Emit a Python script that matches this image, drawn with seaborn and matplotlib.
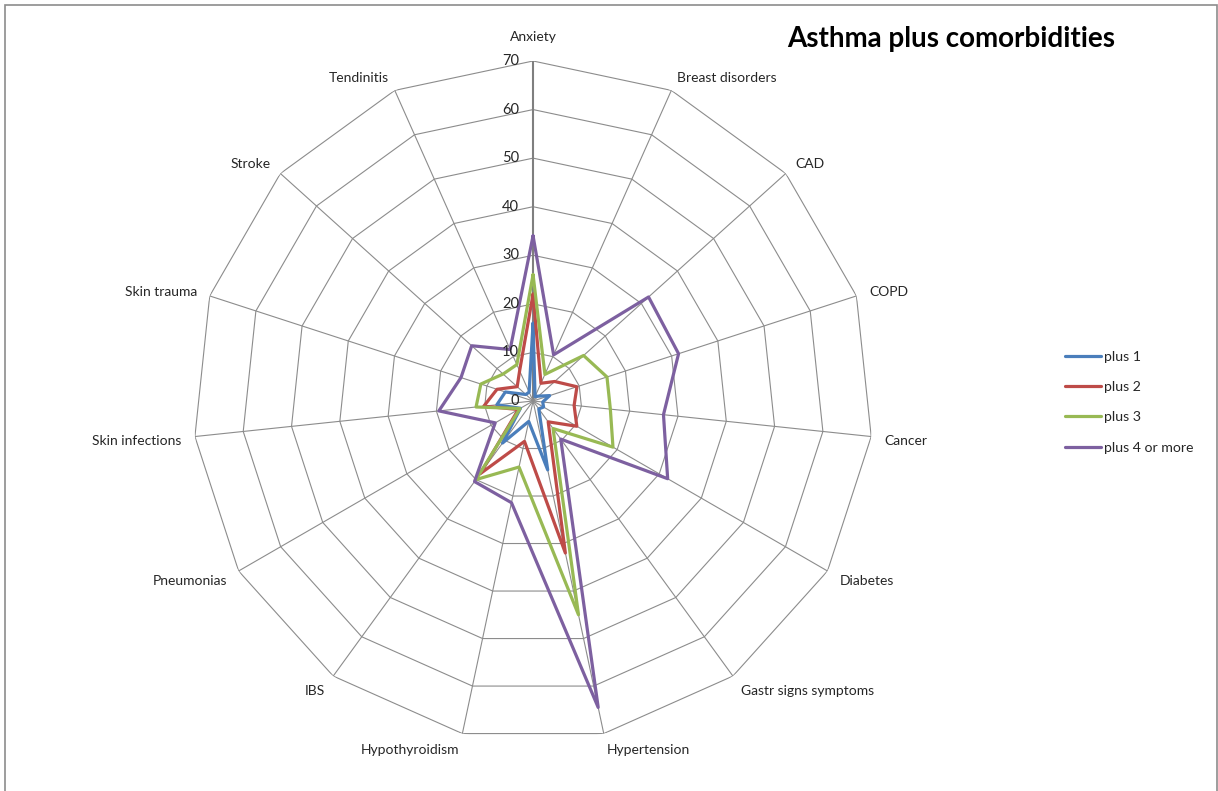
import numpy as np
import pandas as pd
import seaborn as sns
import matplotlib.pyplot as plt
from matplotlib.patches import Rectangle

categories = ['Anxiety', 'Breast disorders', 'CAD', 'COPD', 'Cancer', 'Diabetes',
              'Gastr signs symptoms', 'Hypertension', 'Hypothyroidism', 'IBS',
              'Pneumonias', 'Skin infections', 'Skin trauma', 'Stroke', 'Tendinitis']
series_names = ['plus 1', 'plus 2', 'plus 3', 'plus 4 or more']
plus1 = [16, 1, 1.5, 3.6, 2, 2.5, 2, 14.5, 4.3, 10.7, 3, 7.5, 6, 2, 2]
plus2 = [22, 4, 6, 9.5, 8.5, 10.4, 5.3, 32, 8.5, 18.5, 3.5, 10.2, 7.8, 4.4, 6.8]
plus3 = [26, 6, 14, 16, 16, 19, 7, 45, 13.9, 20, 3.1, 11.8, 11.3, 8.3, 8.2]
plus4 = [34, 10.4, 32, 31.5, 27, 32, 9.7, 64.5, 21.4, 20.5, 9, 19.5, 15.6, 17, 11.6]
colors = ['#4a7ebb', '#be4b48', '#98b954', '#7d60a0']
ticks = [0, 10, 20, 30, 40, 50, 60, 70]

sns.set_style('white')
plt.rcParams['font.family'] = ['Lato', 'DejaVu Sans']

n = len(categories)
theta = np.linspace(0, 2 * np.pi, n, endpoint=False)
theta_closed = np.append(theta, 2 * np.pi)

rows = []
for name, vals in zip(series_names, [plus1, plus2, plus3, plus4]):
    for t, v in zip(theta_closed, vals + vals[:1]):
        rows.append({'theta': t, 'value': v, 'series': name})
df = pd.DataFrame(rows)

fig = plt.figure(figsize=(12.18, 7.91), dpi=100)
ax = fig.add_axes([0.1585, 0.0632, 0.5583, 0.8597], projection='polar')
ax.set_theta_zero_location('N')
ax.set_theta_direction(-1)
ax.set_ylim(0, 70)
ax.grid(False)
ax.set_xticks([])
ax.set_yticks([])
ax.spines['polar'].set_visible(False)

# polygon grid and spokes
for r in ticks[1:]:
    ax.plot(theta_closed, [r] * (n + 1), color='#8c8c8c', lw=0.8, zorder=1)
for i, t in enumerate(theta):
    ax.plot([t, t], [0, 70], color='#8c8c8c' if i else '#7f7f7f',
            lw=0.8 if i else 1.5, zorder=1)

sns.lineplot(data=df, x='theta', y='value', hue='series', palette=colors,
             sort=False, estimator=None, lw=2.3, ax=ax, zorder=3)
ax.set_xlabel('')
ax.set_ylabel('')

for r in ticks:
    ax.annotate(str(r), (0, r), xytext=(-10, 0), textcoords='offset points',
                ha='right', va='center', fontsize=10.5, zorder=4)

for t, lab in zip(theta, categories):
    s = np.sin(t)
    if abs(s) < 1e-6:
        ax.annotate(lab, (t, 75), ha='center', va='center', fontsize=10,
                    annotation_clip=False)
    else:
        dy = -2.5 if np.cos(t) < 0 else 0
        ax.annotate(lab, (t, 72.8), xytext=(0, dy), textcoords='offset points',
                    ha='left' if s > 0 else 'right', va='center', fontsize=10,
                    annotation_clip=False)

fig.text(0.781, 0.951, 'Asthma plus comorbidities', ha='center', va='center',
         fontsize=20, fontweight='bold', color='black')

h, l = ax.get_legend_handles_labels()
ax.legend(h, l, loc='center left', bbox_to_anchor=(0.864, 0.4915),
          bbox_transform=fig.transFigure, frameon=False, fontsize=10.2,
          handlelength=2.5, labelspacing=1.3, handletextpad=0.25)

fig.patches.append(Rectangle((5 / 1218, -0.01), 1212 / 1218, 1 - 5 / 791 + 0.01,
                             transform=fig.transFigure, fill=False,
                             edgecolor='#8c8c8c', lw=1.2))

fig.savefig('out.png', dpi=100)
